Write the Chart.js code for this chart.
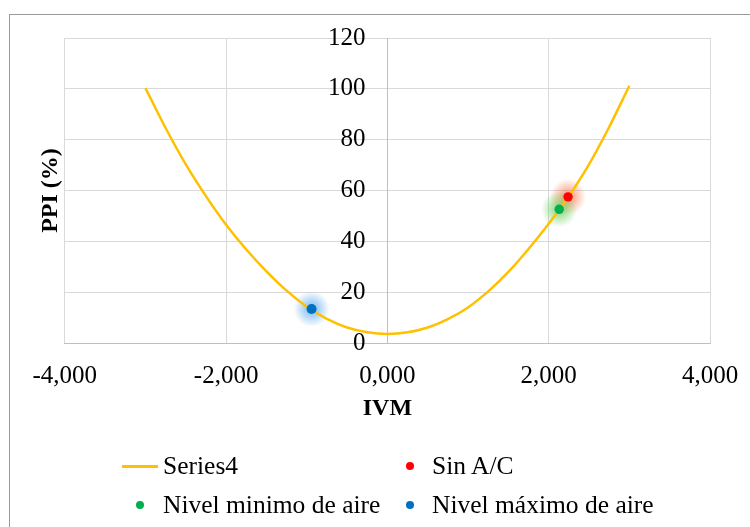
<!DOCTYPE html>
<html>
<head>
<meta charset="utf-8">
<script src="https://cdn.jsdelivr.net/npm/chart.js@4.4.1/dist/chart.umd.min.js"></script>
<style>
  html, body { margin: 0; padding: 0; background: #fff; }
  #wrap { position: relative; width: 750px; height: 527px; overflow: hidden; font-family: "Liberation Serif", "Times New Roman", serif; }
  #frame { position: absolute; left: 9px; top: 14px; width: 900px; height: 700px; border: 1px solid #9a9a9a; box-sizing: border-box; }
  #c { position: absolute; left: 0; top: 0; }
  .lg-text { position: absolute; font-size: 25.5px; line-height: 30px; color: #000; white-space: nowrap; }
  .lg-line { position: absolute; height: 3px; }
  .lg-dot { position: absolute; width: 8px; height: 8px; border-radius: 50%; }
</style>
</head>
<body>
<div id="wrap">
  <div id="frame"></div>
  <canvas id="c" width="750" height="527"></canvas>
  <div id="legend"></div>
</div>
<script>
// IVM (x) and PPI % (y) of the comfort curve
const curveIvm = [-3, -2.75, -2.5, -2.25, -2, -1.75, -1.5, -1.25, -1, -0.75, -0.5, -0.25, 0,
                  0.25, 0.5, 0.75, 1, 1.25, 1.5, 1.75, 2, 2.25, 2.5, 2.75, 3];
const curvePpi = [100.3, 84.6, 70.3, 57.8, 46.5, 36.8, 28.2, 20.6, 14.3, 9.5, 6.1, 4.2, 3.5,
                  4.2, 6.1, 9.4, 14.0, 20.3, 28.0, 37.0, 46.9, 57.8, 70.3, 85.0, 101.2];

// Measured scenarios
const sinAcIvm = [2.24];
const sinAcPpi = [57.5];
const nivelMinIvm = [2.13];
const nivelMinPpi = [52.6];
const nivelMaxIvm = [-0.94];
const nivelMaxPpi = [13.4];

// Axis ticks
const xTicks = [-4, -2, 0, 2, 4];
const yTicks = [0, 20, 40, 60, 80, 100, 120];

const FONT = '"Liberation Serif", "Times New Roman", serif';
const toXY = (xs, ys) => xs.map((x, i) => ({ x: x, y: ys[i] }));

const datasets = [
  { label: 'Series4', type: 'line', data: toXY(curveIvm, curvePpi), borderColor: '#FFC000',
    borderWidth: 2.5, pointRadius: 0, cubicInterpolationMode: 'monotone', fill: false, order: 2 },
  { label: 'Sin A/C', type: 'scatter', data: toXY(sinAcIvm, sinAcPpi), backgroundColor: '#FF0000',
    borderWidth: 0, pointRadius: 4.7, glow: '244,110,60', order: 0 },
  { label: 'Nivel minimo de aire', type: 'scatter', data: toXY(nivelMinIvm, nivelMinPpi), backgroundColor: '#00B050',
    borderWidth: 0, pointRadius: 4.7, glow: '90,200,70', order: 0 },
  { label: 'Nivel máximo de aire', type: 'scatter', data: toXY(nivelMaxIvm, nivelMaxPpi), backgroundColor: '#0070C0',
    borderWidth: 0, pointRadius: 5, glow: '70,160,235', order: 0 }
];

// Soft halo behind the highlighted points
const glowPlugin = {
  id: 'glow',
  beforeDatasetsDraw(chart) {
    const ctx = chart.ctx;
    chart.data.datasets.forEach((ds, i) => {
      if (!ds.glow) return;
      chart.getDatasetMeta(i).data.forEach(pt => {
        const r = 18;
        const g = ctx.createRadialGradient(pt.x, pt.y, 0, pt.x, pt.y, r);
        g.addColorStop(0, 'rgba(' + ds.glow + ',0.75)');
        g.addColorStop(0.45, 'rgba(' + ds.glow + ',0.42)');
        g.addColorStop(1, 'rgba(' + ds.glow + ',0)');
        ctx.save();
        ctx.fillStyle = g;
        ctx.beginPath();
        ctx.arc(pt.x, pt.y, r, 0, Math.PI * 2);
        ctx.fill();
        ctx.restore();
      });
    });
  }
};

const fmtComma = v => v.toFixed(3).replace('.', ',');

new Chart(document.getElementById('c'), {
  data: { datasets: datasets },
  plugins: [glowPlugin],
  options: {
    responsive: false,
    animation: false,
    layout: { padding: { left: 36, right: 40, top: 38, bottom: 103.6 } },
    plugins: { legend: { display: false }, tooltip: { enabled: false } },
    scales: {
      x: {
        type: 'linear', min: xTicks[0], max: xTicks[xTicks.length - 1],
        afterBuildTicks: s => { s.ticks = xTicks.map(v => ({ value: v })); },
        afterFit: s => { s.height = 80.4; s.paddingRight = 0; },
        ticks: { callback: v => fmtComma(v), font: { family: FONT, size: 25 }, color: '#000', padding: 18, maxRotation: 0 },
        grid: { color: '#D9D9D9', drawTicks: false },
        border: { color: '#BFBFBF' },
        title: { display: true, text: 'IVM', color: '#000', font: { family: FONT, size: 24, weight: 'bold' }, padding: 0 }
      },
      y: {
        type: 'linear', position: 'center', min: yTicks[0], max: yTicks[yTicks.length - 1],
        afterBuildTicks: s => { s.ticks = yTicks.map(v => ({ value: v })); },
        ticks: { font: { family: FONT, size: 25 }, color: '#000', padding: 22 },
        grid: { color: '#D9D9D9', drawTicks: false },
        border: { color: '#BFBFBF' }
      },
      yTitle: {
        type: 'linear', position: 'left', axis: 'y',
        ticks: { display: false },
        grid: { display: false, drawTicks: false },
        border: { display: false },
        title: { display: true, text: 'PPI (%)', color: '#000', font: { family: FONT, size: 24, weight: 'bold' }, padding: 0 }
      }
    }
  }
});

// Legend, two items per row
const legendSpec = [
  { ds: 0, kind: 'line', mx: 122, tx: 163, cy: 466 },
  { ds: 1, kind: 'dot', mx: 410, tx: 432, cy: 466 },
  { ds: 2, kind: 'dot', mx: 140, tx: 163, cy: 505 },
  { ds: 3, kind: 'dot', mx: 410, tx: 432, cy: 505 }
];
const legend = document.getElementById('legend');
legendSpec.forEach(it => {
  const ds = datasets[it.ds];
  const m = document.createElement('div');
  if (it.kind === 'line') {
    m.className = 'lg-line';
    m.style.left = it.mx + 'px'; m.style.width = '36px';
    m.style.top = (it.cy - 1.5) + 'px';
    m.style.background = ds.borderColor;
  } else {
    m.className = 'lg-dot';
    m.style.left = (it.mx - 4) + 'px';
    m.style.top = (it.cy - 4) + 'px';
    m.style.background = ds.backgroundColor;
  }
  legend.appendChild(m);
  const t = document.createElement('div');
  t.className = 'lg-text';
  t.textContent = ds.label;
  t.style.left = it.tx + 'px';
  t.style.top = (it.cy - 15.5) + 'px';
  legend.appendChild(t);
});
</script>
</body>
</html>
